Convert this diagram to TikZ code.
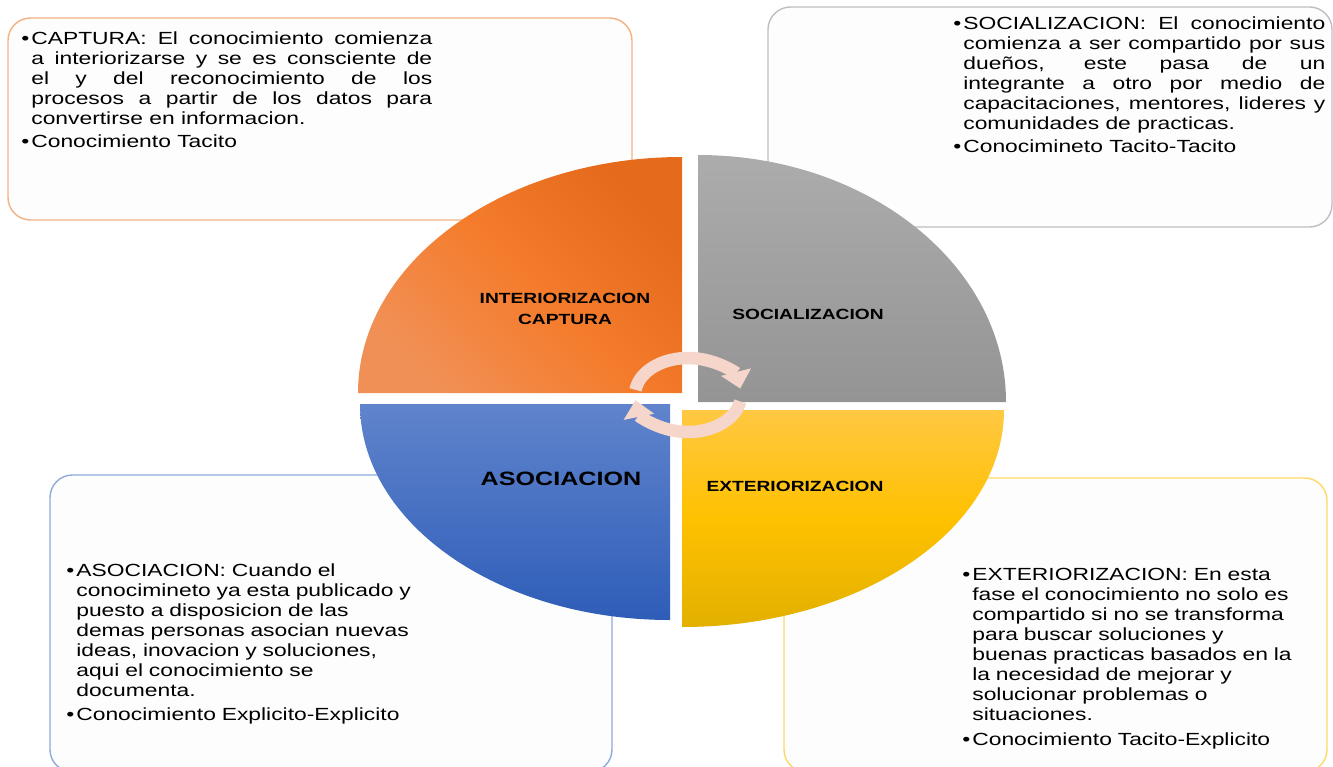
\documentclass[tikz,border=0pt]{standalone}
\usepackage{fontspec}
\setmainfont{Liberation Sans}[FakeStretch=1.3]
\usetikzlibrary{arrows.meta}

\definecolor{capline}{RGB}{244,177,131}
\definecolor{socline}{RGB}{191,191,191}
\definecolor{asoline}{RGB}{143,170,220}
\definecolor{extline}{RGB}{255,217,102}
\definecolor{boxfill}{RGB}{253,253,253}
\definecolor{capdark}{RGB}{229,106,28}
\definecolor{capmid}{RGB}{244,124,44}
\definecolor{caplight}{RGB}{241,144,86}
\definecolor{soctop}{RGB}{172,172,172}
\definecolor{socbot}{RGB}{148,148,148}
\definecolor{asotop}{RGB}{96,132,204}
\definecolor{asobot}{RGB}{46,93,184}
\definecolor{exttop}{RGB}{255,200,66}
\definecolor{extmid}{RGB}{255,193,0}
\definecolor{extbot}{RGB}{226,176,0}
\definecolor{cyclecol}{RGB}{246,214,203}

% bullet with hanging lines
\newcommand{\bpoint}{\par\hangindent=0.2cm\hangafter=1\noindent\makebox[0.2cm][l]{\textbullet}}

\tikzstyle{infobox} = [line width=0.8pt, fill=boxfill, rounded corners=0.45cm]
\tikzstyle{infotext} = [anchor=north west, inner sep=0pt, text=black, font={\fontsize{10}{11.4}\selectfont\tolerance=9999\hbadness=10000}]
\tikzstyle{quadlabel} = [font=\bfseries\fontsize{8.4}{11.8}\selectfont, align=center, text=black]
\tikzstyle{cyclearrow} = [cyclecol, line width=0.25cm, -{Triangle[width=0.6cm,length=0.34cm]}]

\begin{document}
\begin{tikzpicture}[x=0.02cm, y=-0.02cm]
        \useasboundingbox (0,0) rectangle (1333,767);
        \clip (0,0) rectangle (1333,767);

        % Boxes
        \draw[infobox, draw=capline] (8,18) rectangle (632,220);
        \draw[infobox, draw=socline] (768,7) rectangle (1332,227);
        \draw[infobox, draw=asoline] (50,475) rectangle (612,772);
        \draw[infobox, draw=extline] (784,478) rectangle (1327,772);

        % Quadrants
        \shade[top color=capdark, bottom color=caplight, middle color=capmid, shading angle=-45]
            (682,393) -- (358,393) arc[start angle=180, end angle=270, x radius=324, y radius=236] -- cycle;
        \shade[top color=soctop, bottom color=socbot]
            (698,402) -- (698,155) arc[start angle=270, end angle=360, x radius=308, y radius=247] -- cycle;
        \shade[top color=asotop, bottom color=asobot]
            (670,404) -- (360,404) arc[start angle=180, end angle=90, x radius=310, y radius=216] -- cycle;
        \shade[top color=exttop, bottom color=extbot, middle color=extmid]
            (682,410) -- (1004,410) arc[start angle=0, end angle=90, x radius=322, y radius=217] -- cycle;

        % Cycle
        \coordinate (hub) at (688,395);
        \draw[cyclearrow] ([shift={(188:53 and 37)}]hub) arc[start angle=188, end angle=350, x radius=53, y radius=37];
        \draw[cyclearrow] ([shift={(10:53 and 37)}]hub) arc[start angle=10, end angle=172, x radius=53, y radius=37];

        % Labels
        \node[quadlabel] (intlabel) at (565,309) {INTERIORIZACION\\CAPTURA};
        \node[quadlabel] (soclabel) at (808,314) {SOCIALIZACION};
        \node[quadlabel, font=\bfseries\fontsize{11}{13}\selectfont] (asolabel) at (561,479) {ASOCIACION};
        \node[quadlabel] (extlabel) at (795,486) {EXTERIORIZACION};

        % Texts
        \node[infotext, text width=8.22cm, align=justify] (captext) at (21,24) {%
            \bpoint CAPTURA: El conocimiento comienza\linebreak a interiorizarse y se es consciente de\linebreak
            el y del reconocimiento de los\linebreak procesos a partir de los datos para\linebreak
            convertirse en informacion.\par\vspace{1.5pt}
            \bpoint Conocimiento Tacito\par};
        \node[infotext, text width=7.44cm, align=justify] (soctext) at (953,9) {%
            \bpoint SOCIALIZACION: El conocimiento\linebreak comienza a ser compartido por sus\linebreak
            dueños, este pasa de un\linebreak integrante a otro por medio de\linebreak
            capacitaciones, mentores, lideres y\linebreak comunidades de practicas.\par\vspace{1.5pt}
            \bpoint Conocimineto Tacito-Tacito\par};
        \node[infotext, text width=7.4cm, align=left] (asotext) at (66,556) {%
            \bpoint ASOCIACION: Cuando el\newline conocimineto ya esta publicado y\newline
            puesto a disposicion de las\newline demas personas asocian nuevas\newline
            ideas, inovacion y soluciones,\newline aqui el conocimiento se\newline
            documenta.\par\vspace{2.5pt}
            \bpoint Conocimiento Explicito-Explicito\par};
        \node[infotext, text width=7.2cm, align=left] (exttext) at (962,560) {%
            \bpoint EXTERIORIZACION: En esta\newline fase el conocimiento no solo es\newline
            compartido si no se transforma\newline para buscar soluciones y\newline
            buenas practicas basados en la\newline la necesidad de mejorar y\newline
            solucionar problemas o\newline situaciones.\par\vspace{2.5pt}
            \bpoint Conocimiento Tacito-Explicito\par};
\end{tikzpicture}
\end{document}
